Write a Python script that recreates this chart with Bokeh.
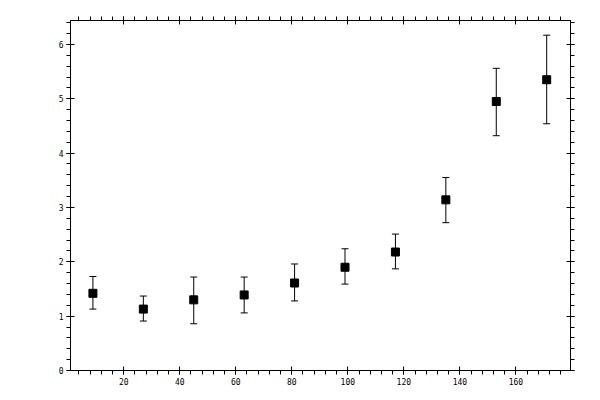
from bokeh.plotting import figure
from bokeh.models import (ColumnDataSource, LinearAxis, SingleIntervalTicker, Whisker,
                          TeeHead, Range1d, CustomJSTickFormatter)
from bokeh.embed import file_html
from bokeh.resources import INLINE

x_vals = [9, 27, 45, 63, 81, 99, 117, 135, 153, 171]
y_vals = [1.42, 1.13, 1.30, 1.39, 1.61, 1.90, 2.18, 3.14, 4.95, 5.35]
y_upper = [1.73, 1.37, 1.72, 1.72, 1.96, 2.24, 2.51, 3.55, 5.56, 6.17]
y_lower = [1.13, 0.91, 0.86, 1.06, 1.28, 1.59, 1.87, 2.72, 4.32, 4.54]

src = ColumnDataSource(dict(x=x_vals, y=y_vals, upper=y_upper, lower=y_lower))

p = figure(width=600, height=400, output_backend="svg", toolbar_location=None,
           x_range=Range1d(1, 179.5), y_range=Range1d(0, 6.44),
           x_axis_location=None, y_axis_location=None,
           min_border_left=70, min_border_right=30, min_border_top=20, min_border_bottom=30)
p.grid.visible = False
p.outline_line_color = "black"
p.outline_line_width = 1
p.background_fill_color = "white"
p.border_fill_color = "white"

FONT = "DejaVu Sans Mono"

def style(ax, labels=True):
    ax.axis_line_color = "black"
    ax.axis_line_width = 1
    ax.major_tick_in = 4
    ax.major_tick_out = 4
    ax.minor_tick_in = 0
    ax.minor_tick_out = 4
    ax.major_tick_line_color = "black"
    ax.minor_tick_line_color = "black"
    ax.major_label_text_font = FONT
    ax.major_label_text_font_size = "8px"
    ax.major_label_text_color = "black"
    ax.major_label_standoff = 3
    if not labels:
        ax.formatter = CustomJSTickFormatter(code="return ''")

xb = LinearAxis(ticker=SingleIntervalTicker(interval=20, num_minor_ticks=5))
xt = LinearAxis(ticker=SingleIntervalTicker(interval=20, num_minor_ticks=5))
yl = LinearAxis(ticker=SingleIntervalTicker(interval=1, num_minor_ticks=5))
yr = LinearAxis(ticker=SingleIntervalTicker(interval=1, num_minor_ticks=5))
style(xb); style(yl)
style(xt, False); style(yr, False)
p.add_layout(xb, "below")
p.add_layout(xt, "above")
p.add_layout(yl, "left")
p.add_layout(yr, "right")

w = Whisker(source=src, base="x", upper="upper", lower="lower",
            line_color="black", line_width=1,
            upper_head=TeeHead(size=7, line_color="black", line_width=1),
            lower_head=TeeHead(size=7, line_color="black", line_width=1))
p.add_layout(w)

p.scatter("x", "y", source=src, marker="square", size=8, fill_color="black", line_color="black")

open("out.html", "w").write(file_html(p, INLINE))
